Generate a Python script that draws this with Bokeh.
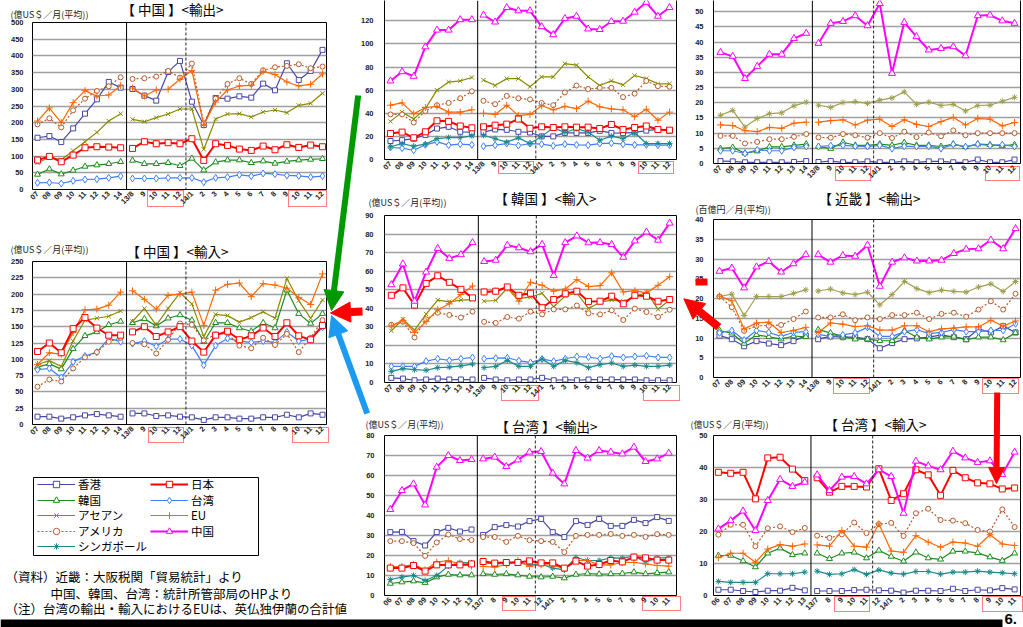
import math
from bokeh.plotting import figure
from bokeh.layouts import row, column
from bokeh.models import (Range1d, FixedTicker, Span, LinearAxis, Arrow, NormalHead,
                          Legend, LegendItem, Spacer)
from bokeh.core.properties import value
from bokeh.embed import file_html
from bokeh.resources import INLINE

# ---------------- categories ----------------
cats_main = ["07", "08", "09", "10", "11", "12", "13", "14",
             "13/8", "9", "10", "11", "12",
             "14/1", "2", "3", "4", "5", "6", "7", "8", "9", "10", "11", "12"]
cats_tw = ["06", "07", "08", "09", "10", "11", "12", "13",
           "13/7", "8", "9", "10", "11", "12",
           "14/1", "2", "3", "4", "5", "6", "7", "8", "9", "10", "11"]

# ---------------- 中国 輸出 ----------------
cn_ex_hk = [155, 160, 142, 183, 227, 270, 322, 305, 301, 281, 266, 352, 385, 263, 193, 274, 272, 279, 275, 317, 297, 378, 328, 355, 418]
cn_ex_jp = [88, 99, 83, 103, 125, 128, 127, 125, 123, 143, 137, 140, 137, 152, 87, 137, 132, 121, 117, 130, 119, 134, 126, 133, 128]
cn_ex_kr = [45, 61, 46, 57, 69, 73, 77, 83, 87, 77, 77, 80, 71, 93, 58, 82, 88, 88, 80, 85, 78, 84, 88, 90, 92]
cn_ex_tw = [20, 21, 18, 26, 30, 31, 35, 40, 33, 33, 33, 35, 35, 35, 22, 35, 37, 44, 40, 48, 46, 42, 41, 37, 40]
cn_ex_asean = [80, 96, 89, 116, 143, 171, 205, 227, 210, 203, 215, 226, 241, 241, 120, 211, 226, 227, 217, 232, 238, 230, 252, 258, 288]
cn_ex_eu = [205, 244, 200, 260, 296, 280, 283, 311, 304, 280, 298, 300, 330, 356, 193, 262, 298, 310, 312, 354, 344, 322, 310, 315, 346]
cn_ex_us = [195, 213, 186, 237, 272, 295, 309, 336, 331, 333, 338, 355, 335, 377, 198, 272, 316, 333, 316, 357, 366, 370, 375, 363, 368]

# ---------------- 中国 輸入 ----------------
cn_im_hk = [12, 12, 9, 11, 14, 16, 14, 12, 17, 17, 13, 14, 12, 11, 7, 11, 11, 9, 9, 11, 11, 15, 11, 17, 15]
cn_im_jp = [112, 125, 110, 147, 164, 148, 137, 137, 142, 150, 135, 142, 150, 128, 111, 137, 143, 130, 136, 148, 135, 156, 136, 130, 152]
cn_im_kr = [88, 93, 85, 116, 136, 142, 153, 158, 156, 162, 151, 163, 168, 160, 127, 156, 156, 148, 143, 156, 148, 206, 170, 155, 170]
cn_im_tw = [84, 86, 72, 96, 105, 111, 132, 127, 124, 128, 120, 131, 131, 121, 91, 121, 132, 128, 126, 128, 126, 142, 128, 131, 149]
cn_im_asean = [92, 98, 89, 128, 160, 163, 166, 174, 158, 178, 152, 178, 202, 185, 135, 169, 167, 157, 164, 173, 163, 224, 190, 163, 191]
cn_im_eu = [92, 110, 108, 141, 176, 177, 183, 203, 205, 192, 177, 198, 200, 203, 152, 206, 215, 217, 196, 216, 214, 209, 195, 184, 231]
cn_im_us = [58, 69, 66, 86, 103, 111, 127, 133, 125, 123, 109, 130, 155, 153, 129, 138, 140, 121, 117, 133, 122, 139, 111, 133, 160]

# ---------------- 韓国 輸出 ----------------
kr_ex_cn = [68, 76, 72, 97.5, 112, 112, 121, 121, 125, 119, 131.5, 128.7, 128.7, 115, 108, 122, 124, 113, 112.5, 119.4, 119.7, 127.5, 136, 124, 131.5]
kr_ex_asean = [33, 41, 35, 44, 60, 67, 68, 71, 68.7, 64, 70, 70, 63, 71.5, 71.5, 83, 81.6, 71.5, 64, 68, 64.6, 72.7, 70, 65.5, 65.5]
kr_ex_us = [39, 39, 32, 42, 47, 49, 53, 59, 50.8, 47.9, 55, 53, 52, 49, 47, 58, 64, 61, 62, 62, 54, 57, 68, 63.5, 63]
kr_ex_eu = [47, 49, 39.5, 45, 46, 41, 41, 43, 40, 39, 47, 38, 39, 46.5, 43, 46, 44, 50.5, 45.6, 43.8, 43, 37, 43.5, 34, 41]
kr_ex_jp = [22.5, 23.7, 18.8, 24, 33.5, 33, 29, 27.4, 28.3, 29.7, 30.6, 35, 27, 28.3, 27.7, 28.3, 28, 28, 26.8, 30.3, 26, 27.7, 29, 26, 25.4]
kr_ex_hk = [16, 16.7, 18, 21.3, 26.8, 28.3, 24, 23.4, 23.7, 26, 25.7, 24, 23.4, 20, 20, 23, 23, 23, 24.8, 23, 22.8, 23.4, 25, 26, 24.8]
kr_ex_tw = [10.4, 9.8, 8, 12.7, 15.3, 12.4, 13.3, 12.7, 11.5, 12.4, 13.8, 12.1, 13.8, 13.3, 11.8, 13.3, 12.7, 12.4, 13.8, 14.1, 13.3, 12.7, 12.7, 12.4, 12.4]
kr_ex_sg = [11, 13.8, 11.5, 13.3, 18, 19, 19, 20.5, 21, 18, 15, 18.7, 13.8, 20, 27.4, 23.4, 26.8, 23.7, 16.7, 20.2, 18, 23.4, 13.8, 13.8, 13.8]

# ---------------- 近畿 輸入 ----------------
ki_im_cn = [36.6, 35.3, 28, 32, 36, 36, 41.2, 42.9, 39.6, 46.2, 46.8, 48.7, 45.4, 52.7, 29.7, 46.5, 41.8, 37.4, 37.9, 38.5, 35.5, 48.7, 48.9, 47, 46.2]
ki_im_asean = [15.9, 17.5, 12, 14.8, 16.4, 16.7, 19, 20.2, 19.2, 18.5, 20.1, 20.4, 19.8, 20.9, 21.6, 23.6, 19.5, 20.2, 19.1, 19.5, 17.3, 19.1, 19.2, 20.5, 21.8]
ki_im_eu = [12.7, 12.5, 10.8, 10.5, 11.9, 11.6, 13.3, 13.6, 13.6, 14.1, 14.4, 12.7, 14.3, 14.6, 12.2, 14.4, 12.9, 12.2, 13.8, 15.2, 12.7, 14.8, 14.6, 12.4, 13.5]
ki_im_us = [9.1, 9.1, 6.6, 7.1, 8, 8, 8.8, 9.7, 8.6, 8.5, 9.7, 9.3, 8.5, 10, 8.4, 10.5, 8.7, 10.2, 9, 10.9, 9.3, 10, 10, 10, 10]
ki_im_kr = [4.9, 5.3, 3.4, 4.1, 5.5, 5.5, 6, 6.4, 5.6, 4.9, 7, 6, 6, 6.4, 6, 6.9, 6, 6, 5.6, 6.4, 5.5, 6.4, 6.2, 5.8, 6.2]
ki_im_tw = [4.2, 4.2, 3.3, 4.5, 4.2, 4.2, 5.3, 5.6, 5.6, 5.9, 6, 5.7, 5.6, 6, 4.9, 5.7, 5.6, 5.7, 4.9, 6.3, 5.5, 6.4, 5.9, 6.2, 5.6]
ki_im_hk = [0.8, 0.7, 0.4, 0.4, 0.4, 0.4, 0.5, 0.8, 0.5, 0.8, 0.4, 0.4, 0.7, 0.4, 0.4, 0.7, 0.4, 0.7, 0.7, 0.4, 0.4, 1.3, 0.4, 0.4, 1.3]

# ---------------- 韓国 輸入 ----------------
kr_im_cn = [52.7, 63.9, 43.8, 59.5, 72.3, 66.9, 68.9, 75.4, 65.2, 65.9, 74, 72.6, 70.5, 74.4, 57.7, 75.4, 79, 75.3, 75.4, 74.4, 67.5, 76.3, 81.1, 76.7, 85.9]
kr_im_eu = [30.5, 33.5, 27, 32.8, 39.2, 42.4, 47.4, 52, 48.8, 49.2, 50.9, 43.8, 54, 52.4, 49.2, 50.4, 55.4, 51.7, 52.2, 59.1, 48.8, 49.5, 48.3, 52.4, 57]
kr_im_jp = [47, 51, 41.7, 53.4, 57.5, 54, 50.2, 45.6, 48.8, 49.2, 51.5, 47, 48.1, 40.3, 44.7, 47.8, 49.2, 43.7, 43.8, 46.5, 42.4, 47, 46.5, 43.8, 44.7]
kr_im_asean = [27.9, 34.1, 28.2, 36.9, 44.4, 43.5, 44.4, 44.7, 43.8, 44.2, 50.8, 45.3, 46, 48.1, 40.8, 46.7, 48.1, 39.9, 43.3, 44.4, 43.8, 46, 48.8, 39.4, 44.6]
kr_im_us = [31.1, 32.7, 24.3, 34.1, 37.6, 36.4, 35, 38.2, 32.7, 32.1, 35.3, 34.4, 38.2, 36.7, 39.4, 39.4, 41.5, 37.3, 36.7, 38.9, 33.7, 39.8, 38, 35.3, 39.2]
kr_im_tw = [8.7, 8.7, 8.7, 11.5, 12.8, 11.9, 12.8, 13.5, 12.8, 13.1, 13.3, 11.7, 10.8, 12.6, 11.5, 12.8, 14, 13.7, 12.8, 14.2, 13.5, 14, 14.4, 13.5, 13.5]
kr_im_sg = [6, 7.5, 6.9, 6.6, 8, 8.3, 9, 9.9, 8, 8.7, 11.9, 8.7, 8.7, 12.6, 8.7, 11.9, 10.7, 8, 9.6, 10.5, 8.7, 9.4, 8.7, 8.7, 9.4]
kr_im_hk = [2.5, 2.1, 1.2, 1.6, 2.1, 1.6, 1.6, 1.6, 2.5, 1.6, 1.2, 1.6, 1.6, 2.5, 1.2, 1.6, 1.2, 1.6, 1.6, 1.6, 1.6, 1.6, 1.2, 1.2, 1.2]

# ---------------- 近畿 輸出 ----------------
ki_ex_cn = [26.9, 27.7, 22.7, 28, 29.4, 26.7, 28.8, 31.1, 31.1, 29.2, 30.9, 30.7, 33.5, 23.1, 29.2, 30.3, 29.5, 29.5, 29.7, 31.4, 32.5, 32.6, 34.8, 32.6, 37.7]
ki_ex_asean = [20.5, 21.1, 15.7, 20.5, 20.5, 20.5, 21.3, 22.2, 21.9, 22.4, 21.4, 21, 21.6, 18.4, 21, 24.3, 22.5, 21.5, 22.1, 21.8, 21.6, 22.9, 23.7, 21.8, 24.3]
ki_ex_us = [20.5, 17.8, 11.8, 13.1, 13.1, 13.3, 14.8, 16.7, 15.2, 15.2, 16, 14.5, 15.2, 14.8, 15.8, 15.8, 16.4, 14.8, 16.1, 16.4, 15.4, 17.2, 19.3, 17.2, 21.2]
ki_ex_eu = [20.6, 19.4, 12.3, 13.8, 14, 11.4, 11.9, 12.7, 11.4, 13.8, 13.5, 12.9, 13.1, 12, 12, 13.1, 13.1, 11.6, 12.3, 12.5, 12.8, 12.8, 14.5, 13, 14.3]
ki_ex_tw = [11.3, 11.9, 9.5, 11.9, 11.4, 10.4, 11.4, 11.6, 10.9, 10.4, 10.8, 11.3, 12.7, 10.4, 10.4, 11.6, 12.1, 11.1, 11.4, 12.1, 11.6, 11.6, 11.9, 11.9, 13.6]
ki_ex_kr = [11.9, 11.2, 8.6, 10.8, 10.3, 9.7, 10.5, 10.3, 12.1, 11.3, 10.4, 9.7, 9.7, 9.3, 9.3, 11.9, 10.2, 9.7, 10.2, 10.4, 9.5, 10.2, 10.2, 9.5, 11.3]
ki_ex_hk = [10.6, 9.7, 7.9, 9.2, 8.6, 8.2, 9.2, 10.6, 9.7, 10.4, 10.2, 10.2, 9.7, 7.4, 8.7, 9.7, 9.9, 10.2, 10.8, 10.2, 9.7, 12.3, 11.4, 13, 11.4]

# ---------------- 台湾 輸出 ----------------
tw_ex_cn = [43, 52.5, 55.8, 45.3, 64.2, 70, 67.5, 68, 68.3, 69.2, 64.5, 67.8, 71.7, 72, 61.2, 55.8, 72.5, 68.7, 72.5, 71.7, 70.8, 74.2, 67, 68.3, 71.2]
tw_ex_hk = [31.7, 31.8, 27.2, 25, 31.7, 33.8, 32, 33, 30.3, 34.2, 35.2, 34.5, 37.2, 38.3, 31.7, 29.2, 37.2, 35.3, 38.3, 34.8, 34.8, 37.8, 36.2, 39.2, 37.3]
tw_ex_us = [27.2, 27.2, 26.2, 19.8, 26.5, 30.5, 28.2, 27.7, 29.2, 29.2, 26.8, 29.8, 27.7, 27.2, 26.8, 21.7, 29.8, 30.3, 30.3, 30.8, 29.8, 30.3, 29.3, 30.7, 30.3]
tw_ex_jp = [13.7, 13.7, 15, 12.2, 15.3, 15.3, 15.3, 15.8, 17, 16.2, 16.5, 16.5, 17.3, 16.3, 16.3, 13.7, 17.2, 14.7, 15.5, 17.5, 16.8, 19.2, 18.8, 17.7, 17.7]
tw_ex_eu = [14.5, 14.5, 15.5, 12.8, 16.7, 17.5, 15.7, 14.7, 14.5, 14.2, 15.5, 17.5, 14.5, 15.5, 15.2, 13.3, 17.5, 17.5, 15.3, 15.3, 16.5, 16.5, 15.8, 15, 14.7]
tw_ex_sg = [8, 9.2, 10, 7.5, 10, 14.7, 16.5, 16.3, 16.5, 15.8, 16, 16.5, 15.2, 15.8, 13.7, 12.8, 19, 17.5, 17.5, 18.8, 18.7, 19.7, 16.8, 18.8, 18.8]
tw_ex_kr = [6, 6.7, 7.2, 6.3, 9.2, 10.5, 10.2, 10.2, 10.8, 10.5, 10.8, 10.2, 9.5, 9.2, 9.5, 8.7, 10.5, 11, 10.7, 10.8, 11, 11.7, 10.8, 11.3, 11.7]

# ---------------- 台湾 輸入 ----------------
tw_im_cn = [20.8, 23.4, 26.4, 20.3, 29.7, 36.3, 34.1, 35.4, 37.7, 32.8, 37, 37.2, 34.9, 39.3, 37.2, 25.7, 42, 40.5, 39.3, 45.1, 43, 41.6, 42.1, 37.8, 44.8]
tw_im_jp = [38.5, 38.2, 38.5, 30.2, 43, 43.2, 39.5, 35.9, 36.8, 32.3, 34.1, 34.1, 33.9, 39.6, 29.7, 31.8, 39.3, 37.7, 31.3, 39.1, 36.8, 35.2, 34.9, 33.3, 33.6]
tw_im_us = [19, 22.1, 22.1, 15.4, 21, 21.6, 19.8, 21.1, 18.7, 18, 19.1, 22.8, 19.5, 22.3, 22.7, 18.6, 25.7, 27.1, 23.6, 23.4, 22.6, 20.5, 20, 26.9, 21.4]
tw_im_eu = [11.8, 13.2, 13.2, 10.4, 14.5, 15.9, 15.4, 16.1, 15.8, 15.4, 20.3, 15.4, 15.1, 22.4, 13.9, 13.5, 18.7, 16.7, 15.1, 16.7, 16.4, 15.4, 19, 16.1, 15.6]
tw_im_kr = [12.5, 12.5, 10.8, 8.9, 13.2, 14.8, 12.7, 13.2, 13.2, 11.5, 13.2, 13.5, 11.7, 14.1, 12.2, 10.7, 13.5, 11.7, 11.3, 13.8, 13.8, 13.3, 12, 10.9, 13.2]
tw_im_sg = [4.4, 4.1, 4.1, 4.1, 6.8, 6.8, 6.8, 7.3, 7.6, 6.6, 6.8, 8.1, 6.6, 8, 7, 6.7, 7.5, 7.5, 6.7, 7.3, 7.3, 7.6, 7.3, 7.1, 6.8]
tw_im_hk = [1.8, 1.8, 1.4, 1.1, 1.5, 1.5, 2.4, 1.6, 1.4, 1.4, 1.4, 1.7, 1.8, 1.6, 1.5, 0.9, 1.5, 1.5, 1.4, 2.1, 1.4, 1.8, 1.6, 2.3, 1.9]

# ---------------- styles ----------------
SANS = "Liberation Sans"
JP = "Noto Sans CJK JP"

STYLE = {
    "香港": dict(color="#4848a8", width=1.2, marker="square", size=5, dash="solid"),
    "韓国": dict(color="#1c8c1c", width=1.2, marker="triangle", size=6, dash="solid"),
    "アセアン": dict(color="#8a8a00", width=1.2, marker="x", size=6, dash="solid"),
    "アメリカ": dict(color="#b85a2a", width=1.2, marker="circle", size=5, dash="2 2"),
    "シンガポール": dict(color="#1a8a8a", width=1.2, marker="asterisk", size=6, dash="solid"),
    "日本": dict(color="#ff0000", width=2, marker="square", size=6, dash="solid"),
    "台湾": dict(color="#3f7fff", width=1.2, marker="diamond", size=7, dash="solid"),
    "EU": dict(color="#ff6600", width=1.2, marker="cross", size=7, dash="solid"),
    "中国": dict(color="#ff00ff", width=2, marker="triangle", size=7, dash="solid"),
}
KINKI_ASEAN = dict(color="#a0a050", width=1.2, marker="asterisk", size=6, dash="solid")
DRAW_ORDER = ["香港", "韓国", "台湾", "アセアン", "アメリカ", "シンガポール", "EU", "日本", "中国"]


def make_panel(fig_box, frame, xpos, yspec, labels, series, top_cut=False,
               standoff=9, overrides=None):
    fx0, fy0, fw, fh = fig_box
    L, R, T, B = frame
    x0px, xNpx = xpos
    n = len(labels)
    step = (xNpx - x0px) / (n - 1)
    ymin, ymax, ystep, ytop = yspec
    p = figure(width=fw, height=fh,
               x_range=Range1d((L - x0px) / step, (R - x0px) / step),
               y_range=Range1d(ymin, ytop),
               min_border_left=round(L - fx0), min_border_right=round(fx0 + fw - R),
               min_border_top=round(T - fy0), min_border_bottom=round(fy0 + fh - B),
               toolbar_location=None, tools="", output_backend="svg",
               background_fill_color="white", border_fill_color="white")
    p.xgrid.visible = False
    p.ygrid.grid_line_color = "#a0a0a0"
    p.ygrid.grid_line_width = 1.5
    ticks_y = []
    v = ymin
    while v <= ymax + 1e-9:
        ticks_y.append(v)
        v += ystep
    p.yaxis.ticker = FixedTicker(ticks=ticks_y)
    p.ygrid.ticker = FixedTicker(ticks=ticks_y)
    p.xaxis.ticker = FixedTicker(ticks=list(range(n)))
    p.xaxis.major_label_overrides = {i: lab for i, lab in enumerate(labels)}
    p.xaxis.major_label_orientation = math.pi / 4
    for ax in (p.xaxis, p.yaxis):
        ax.major_tick_out = 0
        ax.major_tick_in = 0
        ax.minor_tick_out = 0
        ax.minor_tick_in = 0
        ax.major_label_text_font = SANS
        ax.major_label_text_font_size = "7.5px"
        ax.major_label_text_font_style = "bold"
        ax.major_label_text_color = "#222222"
    p.yaxis.major_label_standoff = standoff
    p.xaxis.major_label_standoff = 3
    if top_cut:
        p.outline_line_color = None
        p.xaxis.axis_line_color = "black"
        p.yaxis.axis_line_color = "black"
        rax = LinearAxis(ticker=FixedTicker(ticks=[]), major_label_text_font_size="0px",
                         major_tick_out=0, major_tick_in=0, axis_line_color="black")
        p.add_layout(rax, "right")
    else:
        p.outline_line_color = "black"
        p.xaxis.axis_line_color = None
        p.yaxis.axis_line_color = None
    p.add_layout(Span(location=7.5, dimension="height", line_color="black", line_width=1))
    p.add_layout(Span(location=12.5, dimension="height", line_color="#222222",
                      line_width=1, line_dash="3 2"))
    idx = list(range(n))
    series = sorted(series, key=lambda s: DRAW_ORDER.index(s[0]))
    for name, vals in series:
        st = dict(STYLE[name])
        if overrides and name in overrides:
            st = overrides[name]
        for seg in (slice(0, 8), slice(8, n)):
            p.line(idx[seg], vals[seg], line_color=st["color"], line_width=st["width"],
                   line_dash=st["dash"])
        p.scatter(idx, vals, marker=st["marker"], size=st["size"], line_color=st["color"],
                  fill_color="white", line_width=1)
    return p


# ---------------- panels ----------------
p_cn_ex = make_panel((0, 0, 345, 230), (32, 326, 22, 189), (37, 322), (0, 500, 50, 500), cats_main,
                     [("香港", cn_ex_hk), ("日本", cn_ex_jp), ("韓国", cn_ex_kr), ("台湾", cn_ex_tw),
                      ("アセアン", cn_ex_asean), ("EU", cn_ex_eu), ("アメリカ", cn_ex_us)])
p_cn_im = make_panel((0, 230, 345, 220), (32, 327, 261, 424), (37, 323), (0, 250, 25, 250), cats_main,
                     [("香港", cn_im_hk), ("日本", cn_im_jp), ("韓国", cn_im_kr), ("台湾", cn_im_tw),
                      ("アセアン", cn_im_asean), ("EU", cn_im_eu), ("アメリカ", cn_im_us)])
p_kr_ex = make_panel((345, 0, 343, 190), (383, 676, 0, 159), (389, 669), (0, 120, 20, 137.6), cats_main,
                     [("中国", kr_ex_cn), ("アセアン", kr_ex_asean), ("アメリカ", kr_ex_us), ("EU", kr_ex_eu),
                      ("日本", kr_ex_jp), ("香港", kr_ex_hk), ("台湾", kr_ex_tw), ("シンガポール", kr_ex_sg)],
                     top_cut=True, standoff=11)
p_kr_im = make_panel((345, 190, 343, 215), (384, 683, 215, 384), (391, 676), (0, 90, 10, 90), cats_main,
                     [("中国", kr_im_cn), ("EU", kr_im_eu), ("日本", kr_im_jp), ("アセアン", kr_im_asean),
                      ("アメリカ", kr_im_us), ("台湾", kr_im_tw), ("シンガポール", kr_im_sg), ("香港", kr_im_hk)],
                     standoff=11)
p_tw_ex = make_panel((345, 405, 343, 222), (381, 682, 435, 595), (387, 674), (0, 80, 10, 80), cats_tw,
                     [("中国", tw_ex_cn), ("香港", tw_ex_hk), ("アメリカ", tw_ex_us), ("日本", tw_ex_jp),
                      ("EU", tw_ex_eu), ("シンガポール", tw_ex_sg), ("韓国", tw_ex_kr)], standoff=10)
p_ki_im = make_panel((688, 0, 335, 190), (712, 1020, 0, 163), (719, 1014), (0, 50, 5, 53.7), cats_main,
                     [("中国", ki_im_cn), ("アセアン", ki_im_asean), ("EU", ki_im_eu), ("アメリカ", ki_im_us),
                      ("韓国", ki_im_kr), ("台湾", ki_im_tw), ("香港", ki_im_hk)],
                     top_cut=True, standoff=10, overrides={"アセアン": KINKI_ASEAN})
p_ki_ex = make_panel((688, 190, 335, 215), (713, 1021, 219, 377), (719, 1016), (0, 40, 5, 40), cats_main,
                     [("中国", ki_ex_cn), ("アセアン", ki_ex_asean), ("アメリカ", ki_ex_us), ("EU", ki_ex_eu),
                      ("台湾", ki_ex_tw), ("韓国", ki_ex_kr), ("香港", ki_ex_hk)],
                     standoff=10, overrides={"アセアン": KINKI_ASEAN})
p_tw_im = make_panel((688, 405, 335, 222), (708, 1022, 435, 595), (713, 1016), (0, 50, 10, 50), cats_tw,
                     [("中国", tw_im_cn), ("日本", tw_im_jp), ("アメリカ", tw_im_us), ("EU", tw_im_eu),
                      ("韓国", tw_im_kr), ("シンガポール", tw_im_sg), ("香港", tw_im_hk)], standoff=6)

left_col = column(p_cn_ex, p_cn_im, Spacer(width=345, height=177))
mid_col = column(p_kr_ex, p_kr_im, p_tw_ex)
right_col = column(p_ki_im, p_ki_ex, p_tw_im)
main = row(left_col, mid_col, right_col)

# ---------------- overlay (titles, notes, legend, arrows) ----------------
ov = figure(width=1023, height=627, x_range=Range1d(0, 1023), y_range=Range1d(627, 0),
            x_axis_type=None, y_axis_type=None, min_border=0,
            min_border_left=0, min_border_right=0, min_border_top=0, min_border_bottom=0,
            toolbar_location=None, tools="", output_backend="svg",
            background_fill_color=None, border_fill_color=None, outline_line_color=None)

titles = ["【 中国 】<輸出>", "【 中国 】<輸入>", "【 韓国 】<輸入>",
          "【 近畿 】<輸出>", "【 台湾 】<輸出>", "【 台湾 】<輸入>"]
title_x = [172, 177, 545, 869, 546, 875]
title_y = [8, 250, 197, 197, 425, 423]
ov.text(x=title_x, y=title_y, text=titles, text_font=value(JP), text_font_size="13.5px",
        text_align="center", text_baseline="middle", text_color="black")

units = ["(億US＄／月(平均))", "(億US＄／月(平均))", "(億US＄／月(平均))",
         "(百億円／月(平均))", "(億US＄／月(平均))", "(億US＄／月(平均))"]
unit_x = [10, 10, 368, 695, 365, 690]
unit_y = [14, 249, 202, 209, 423.5, 424]
ov.text(x=unit_x, y=unit_y, text=units, text_font=value(JP), text_font_size="9px",
        text_align="left", text_baseline="middle", text_color="#222222")

# red dotted boxes around recent months' tick labels
box_l = [147, 288, 148, 292, 498, 638, 835, 985, 501, 643, 833, 982, 502, 642, 834, 982]
box_r = [183, 326, 183, 328, 533, 673, 870, 1019, 538, 679, 869, 1018, 535, 680, 869, 1022]
box_t = [190, 190, 427, 427, 161, 161, 166, 166, 385, 385, 378, 378, 596, 596, 596, 596]
box_b = [206, 206, 442, 442, 173, 173, 180, 180, 400, 400, 393, 393, 610, 610, 611, 611]
ov.quad(left=box_l, right=box_r, top=box_t, bottom=box_b, fill_color=None,
        line_color="#ff0000", line_width=1, line_dash="1 1")

# legend box
ov.quad(left=[33], right=[258], top=[477], bottom=[555], fill_color="white",
        line_color="black", line_width=1)

# legend entries: (name, left x of glyph, centre y of row)
leg_entries = [("香港", 37, 484), ("韓国", 37, 500), ("アセアン", 37, 515.5),
               ("アメリカ", 37, 530.5), ("シンガポール", 37, 546),
               ("日本", 150, 484), ("台湾", 150, 500), ("EU", 150, 515.5), ("中国", 150, 530.5)]
for nm, lx, yc in leg_entries:
    st = STYLE[nm]
    lr = ov.line([-60, -50], [-60, -60], line_color=st["color"], line_width=st["width"],
                 line_dash=st["dash"])
    sr = ov.scatter([-55], [-60], marker=st["marker"], size=st["size"],
                    line_color=st["color"], fill_color="white", line_width=1)
    lg = Legend(items=[LegendItem(label=nm, renderers=[lr, sr])],
                location=(lx, round(627 - yc - 8)), orientation="vertical",
                glyph_width=38, glyph_height=16, label_height=16, label_standoff=3,
                spacing=0, padding=0, margin=0, border_line_color=None,
                background_fill_alpha=0, label_text_font=JP, label_text_font_size="11.5px",
                label_text_color="black")
    ov.add_layout(lg)

notes = ["（資料）近畿：大阪税関「貿易統計」より",
         "中国、韓国、台湾：統計所管部局のHPより",
         "（注）台湾の輸出・輸入におけるEUは、英仏独伊蘭の合計値"]
ov.text(x=[5, 50, 5], y=[576, 592.5, 607.5], text=notes, text_font=value(JP),
        text_font_size="12.5px", text_align="left", text_baseline="middle", text_color="black")

# bottom bar and page number
ov.quad(left=[0], right=[1002], top=[619], bottom=[627], fill_color="black", line_color=None)
ov.text(x=[1004], y=[618], text=["6."], text_font=value(SANS), text_font_size="15px",
        text_font_style="bold", text_align="left", text_baseline="middle", text_color="black")

# arrows
arrows = [
    ((357.7, 95), (331, 310), "#009900", 6, 20),
    ((362, 311), (330, 312.5), "#ff0000", 8, 20),
    ((366.7, 413), (331, 315), "#1a9af0", 6, 20),
    ((718.3, 326.7), (683.3, 298.3), "#ff0000", 8, 20),
    ((996.7, 392), (996, 483), "#ff0000", 6, 16),
]
for (xs, ys), (xe, ye), col, w, hs in arrows:
    ov.add_layout(Arrow(end=NormalHead(size=hs, fill_color=col, line_color=col, line_width=1),
                        x_start=xs, y_start=ys, x_end=xe, y_end=ye,
                        line_color=col, line_width=w))
ov.quad(left=[695], right=[707], top=[278], bottom=[285], fill_color="#ff0000", line_color=None)

ov.margin = (-627, 0, 0, 0)
root = column(main, ov)

open("out.html", "w").write(file_html(root, INLINE, title="chart"))
